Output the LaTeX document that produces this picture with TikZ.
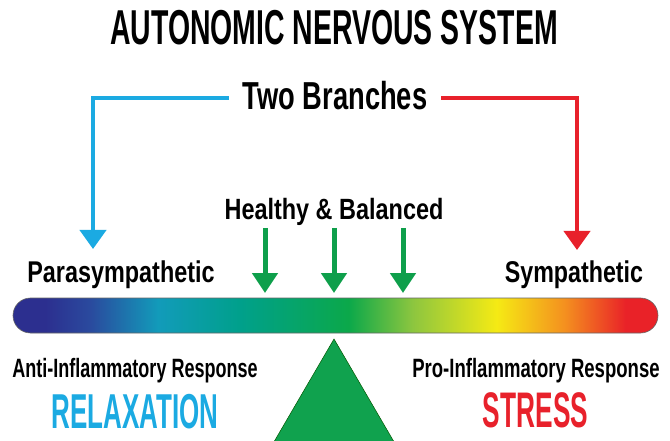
\documentclass[tikz,border=0pt]{standalone}
\usepackage{fontspec}
\setmainfont{Liberation Sans}
\usepackage{graphicx}
\usetikzlibrary{arrows.meta}
\definecolor{cblue}{HTML}{1BAAE2}
\definecolor{cred}{HTML}{E8212B}
\definecolor{cgreen}{HTML}{0E9F4B}
\definecolor{tgreen}{HTML}{10A24E}
\definecolor{s0}{HTML}{2C2F8F}
\definecolor{s1}{HTML}{2A4A9E}
\definecolor{s2}{HTML}{129BBA}
\definecolor{s3}{HTML}{00A08C}
\definecolor{s4}{HTML}{0BA84A}
\definecolor{s5}{HTML}{8DC63F}
\definecolor{s6}{HTML}{F5EA14}
\definecolor{s7}{HTML}{F4901F}
\definecolor{s8}{HTML}{E92228}
\pgfdeclarehorizontalshading{spectrum}{100bp}{color(0bp)=(s0); color(25bp)=(s0); color(27.5bp)=(s0); color(31bp)=(s1); color(36.25bp)=(s2); color(42.5bp)=(s3); color(51bp)=(s4); color(56bp)=(s5); color(62.5bp)=(s6); color(67.75bp)=(s7); color(72.5bp)=(s8); color(75bp)=(s8); color(100bp)=(s8)}
\newcommand\hsq[2]{\scalebox{#1}[1]{#2}}
\newcommand\fsz[1]{\bfseries\fontsize{#1}{#1}\selectfont}
\tikzset{
  lbl/.style={inner sep=0pt, anchor=base, text=black},
  branch/.style={line width=4pt, -{Triangle[width=26pt,length=19pt]}},
  garrow/.style={cgreen, line width=5pt, -{Triangle[width=25pt,length=20pt]}},
  barbox/.style={draw=black!60, line width=0.6pt, shading=spectrum, rounded corners=17.5pt, minimum width=645pt, minimum height=35pt, inner sep=0pt}
}
\begin{document}
\begin{tikzpicture}[x=1pt,y=-1pt]
\clip (0,0) rectangle (670,441);
\fill[white] (0,0) rectangle (670,441);
% texts
\node[lbl, font=\fsz{49}] (title) at (334,45) {\hsq{0.58}{AUTONOMIC NERVOUS SYSTEM}};
\node[lbl, font=\fsz{39}, inner xsep=14pt] (branches) at (335,110) {\hsq{0.70}{Two Branches}};
\node[lbl, font=\fsz{29.3}] (healthy) at (334,219) {\hsq{0.80}{Healthy \& Balanced}};
\node[lbl, font=\fsz{30}] (para) at (121,283) {\hsq{0.78}{Parasympathetic}};
\node[lbl, font=\fsz{30}] (symp) at (574,283) {\hsq{0.775}{Sympathetic}};
\node[lbl, font=\fsz{26.5}] (anti) at (135,377) {\hsq{0.68}{Anti-Inflammatory Response}};
\node[lbl, font=\fsz{26.5}] (pro) at (536,377) {\hsq{0.70}{Pro-Inflammatory Response}};
\node[lbl, font=\fsz{49}, text=cblue] (relax) at (135,428) {\hsq{0.53}{RELAXATION}};
\node[lbl, font=\fsz{50}, text=cred] (stress) at (535.5,427) {\hsq{0.525}{STRESS}};
% bar
\node[barbox] (bar) at (335.5,315.5) {};
% fulcrum
\fill[tgreen, draw=green!35!black, line width=0.5pt] (334,339) -- (404.6,460) -- (263.4,460) -- cycle;
% branch arrows
\coordinate (paratip) at (93,249);
\coordinate (symptip) at (577,250);
\draw[branch, cblue] ([yshift=-2pt]branches.west) -| (paratip);
\draw[branch, cred] ([yshift=-2pt]branches.east) -| (symptip);
% green arrows
\coordinate (g1s) at (265,228); \coordinate (g1e) at (265,293);
\coordinate (g2s) at (334,228); \coordinate (g2e) at (334,293);
\coordinate (g3s) at (403,228); \coordinate (g3e) at (403,293);
\draw[garrow] (g1s) -- (g1e);
\draw[garrow] (g2s) -- (g2e);
\draw[garrow] (g3s) -- (g3e);
\end{tikzpicture}
\end{document}
